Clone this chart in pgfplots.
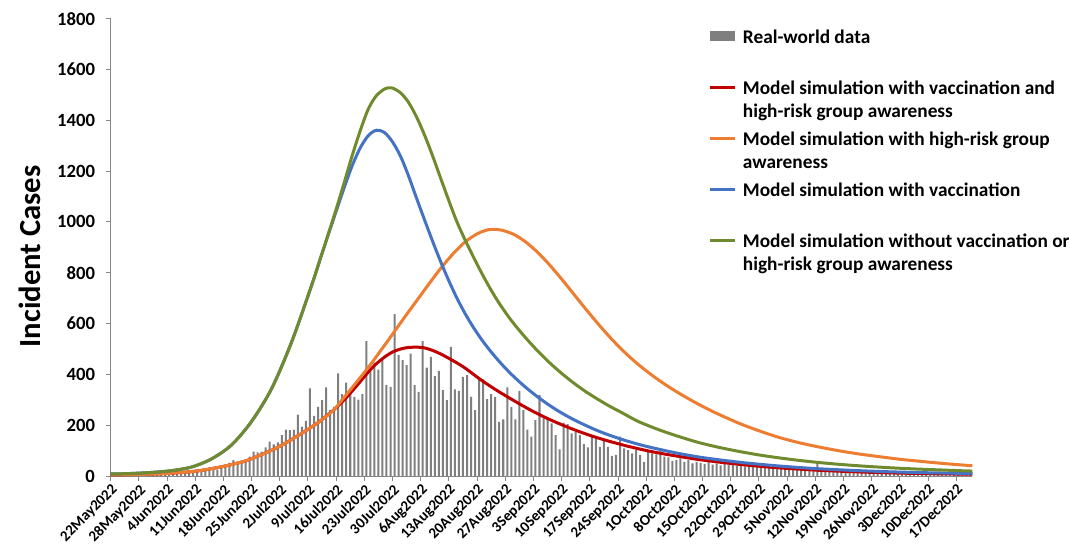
\documentclass[border=0pt]{standalone}
\usepackage{fontspec}
\setmainfont{Carlito}
\usepackage{pgfplots}
\usepackage{pgfplotstable}
\pgfplotsset{compat=1.18}
\definecolor{barGray}{HTML}{7F7F7F}
\definecolor{cRed}{HTML}{C00000}
\definecolor{cOrange}{HTML}{ED7D31}
\definecolor{cBlue}{HTML}{4472C4}
\definecolor{cGreen}{HTML}{6F8B2E}
\definecolor{axGray}{HTML}{868686}
\pgfplotsset{
  lineleg/.style={legend image code/.code={\draw[##1] (0pt,8.9pt) -- (18.75pt,8.9pt);}},
  barleg/.style={legend image code/.code={\fill[barGray] (0pt,5.1pt) rectangle (18.75pt,12.6pt);}},
}

\pgfplotstableread[row sep=\\]{v\\
1\\2\\1\\2\\3\\2\\3\\4\\3\\5\\6\\5\\7\\8\\9\\10\\12\\11\\
17\\13\\23\\23\\25\\25\\28\\31\\25\\35\\37\\
52\\63\\52\\56\\63\\76\\96\\93\\96\\113\\135\\125\\132\\161\\183\\181\\183\\
242\\194\\217\\345\\237\\272\\299\\349\\259\\272\\404\\322\\368\\335\\312\\301\\322\\531\\414\\446\\419\\456\\359\\351\\637\\
476\\456\\436\\482\\358\\331\\531\\427\\469\\393\\414\\338\\299\\508\\341\\335\\390\\397\\312\\259\\
386\\380\\303\\322\\312\\213\\223\\349\\272\\223\\335\\259\\183\\155\\220\\318\\227\\233\\207\\161\\
105\\209\\204\\168\\174\\161\\126\\113\\161\\152\\115\\139\\115\\79\\83\\155\\109\\102\\89\\102\\
83\\56\\96\\89\\85\\109\\76\\73\\60\\63\\69\\56\\63\\50\\56\\
52\\48\\55\\45\\50\\42\\47\\44\\60\\40\\45\\38\\53\\36\\40\\35\\45\\32\\36\\40\\
30\\33\\40\\28\\31\\27\\30\\26\\29\\50\\25\\27\\24\\30\\22\\25\\21\\23\\20\\22\\
19\\21\\18\\20\\17\\19\\16\\18\\15\\17\\14\\16\\13\\15\\12\\14\\12\\13\\11\\12\\
10\\11\\9\\10\\9\\8\\9\\8\\
}\realdata

\begin{document}
\begin{tikzpicture}
\path[use as bounding box] (-83pt,-51.75pt) rectangle (718.7pt,357pt);
\begin{axis}[
  scale only axis, width=646.2pt, height=343pt,
  at={(0,0)}, anchor=south west,
  xmin=0, xmax=214, ymin=0, ymax=1800,
  axis x line*=bottom, axis y line*=left,
  axis line style={-, draw=axGray, line width=0.75pt},
  xtick={0,7,...,210},
  xticklabels={22May2022,28May2022,4Jun2022,11Jun2022,18Jun2022,25Jun2022,2Jul2022,9Jul2022,16Jul2022,23Jul2022,30Jul2022,6Aug2022,13Aug2022,20Aug2022,27Aug2022,3Sep2022,10Sep2022,17Sep2022,24Sep2022,1Oct2022,8Oct2022,15Oct2022,22Oct2022,29Oct2022,5Nov2022,12Nov2022,19Nov2022,26Nov2022,3Dec2022,10Dec2022,17Dec2022},
  ytick={0,200,...,1800},
  tick align=outside,
  major tick length=3.75pt,
  tick style={draw=axGray, line width=0.75pt},
  x tick label style={rotate=45, anchor=north east, font=\bfseries\fontsize{11.3}{13}\selectfont, inner sep=1pt},
  y tick label style={font=\bfseries\fontsize{14}{16}\selectfont, xshift=-4.5pt},
  /pgf/number format/assume math mode=true,
  /pgf/number format/1000 sep={},
  ylabel={Incident Cases},
  ylabel style={at={(axis description cs:-0.0937,0.48)}, anchor=center, font=\bfseries\fontsize{23}{27}\selectfont},
  legend cell align=left,
  legend style={at={(0.6932,0.982)}, anchor=north west, draw=none, fill=none, inner sep=0pt,
    row sep=7pt, font=\bfseries\fontsize{14.5}{17.5}\selectfont,
    nodes={align=left, inner ysep=0pt, inner xsep=5pt}, cells={anchor=west}},
]
\addplot[ybar, bar width=0.5, bar shift=0pt, fill=barGray, draw=none, barleg]
  table[x expr=\coordindex+0.5, y=v] {\realdata};
\addlegendentry{\strut Real-world data\\\strut}

\addplot[cRed, line width=2.25pt, smooth, lineleg] coordinates {
(0,4) (5,5.5) (10,7.5) (14,10) (18,14.5) (21,19) (24,26) (28,38) (31,49) (34,62) (38,88) (41.5,113) (45.4,148) (51.2,207) (55.3,259) (58,300) (60,335) (62,372) (64.4,417) (66,442) (68,468) (70,488) (72,500) (74,506) (76.4,507) (78,504) (80,494) (82,480) (84,463) (86,445) (88,425) (92,378) (96,336) (100,298) (104,262) (108,230) (112,202) (116,177) (120,155) (124,136) (128,119) (132,104) (136,91) (140,80) (146,65) (151,55) (156,46) (161,38.5) (166,32) (171,27) (176,22.5) (181,19) (186,16) (191,13.5) (196,11.5) (201,10) (206,8.7) (211,7.6) (214,7)};
\addlegendentry{\strut Model simulation with vaccination and\\high-risk group awareness\strut}

\addplot[cOrange, line width=2.25pt, smooth, lineleg] coordinates {
(0,4) (5,5.5) (10,7.5) (14,10) (18,14.5) (21,19) (24,26) (28,38) (31,49) (34,62) (38,88) (41.5,113) (45.4,148) (51.2,207) (55.3,259) (58,310) (61,368) (64,428) (67,492) (70,558) (73,625) (76,690) (79,755) (82,818) (85,874) (88,921) (91,953) (93,966) (94.7,971) (97,968) (100,952) (103,922) (106,881) (109,831) (112,775) (115,716) (118,657) (121,600) (124,546) (127,497) (130,453) (133,414) (136,379) (139,347) (142,318) (145,291) (148,266) (151,243) (156,208) (161,178) (166,152) (171,131) (176,114) (181,99) (186,86.5) (191,76) (196,66) (201,58) (206,50.5) (211,44) (214,40.5)};
\addlegendentry{\strut Model simulation with high-risk group\\awareness\strut}

\addplot[cBlue, line width=2.25pt, smooth, lineleg] coordinates {
(0,8) (5,10) (10,14) (15,21) (20,35) (25,67) (30,122) (35,215) (40,345) (45,530) (50,755) (52,852) (54,948) (56,1042) (58,1135) (60,1222) (62,1292) (64,1340) (66,1361) (68,1352) (70,1315) (72,1258) (74,1180) (76,1092) (78,1006) (80,922) (82,842) (84,768) (86,700) (88,640) (90,587) (92,540) (94,498) (96,460) (98,425) (100,393) (103,350) (106,312) (109,278) (112,248) (115,222) (118,199) (121,178) (124,160) (128,139) (132,121) (136,106) (141,89) (146,75) (151,64) (156,54.5) (161,46.5) (166,39.5) (171,33.5) (176,28.5) (181,24.5) (186,21) (191,18) (196,15.5) (201,13.5) (206,12) (211,10.5) (214,10)};
\addlegendentry{\strut Model simulation with vaccination\\\strut}

\addplot[cGreen, line width=2.25pt, smooth, lineleg] coordinates {
(0,8) (5,10) (10,14) (15,21) (20,35) (25,67) (30,122) (35,215) (40,345) (45,530) (50,755) (52,852) (54,950) (56,1050) (58,1155) (60,1262) (62,1360) (64,1445) (66,1497) (68,1523) (69.2,1528) (70,1527) (72,1508) (74,1470) (76,1412) (78,1340) (80,1258) (82,1170) (84,1083) (86,1000) (88,930) (90,865) (92,803) (94,745) (96,692) (98,645) (100,602) (103,545) (106,493) (109,446) (112,404) (115,366) (118,332) (121,302) (124,274) (127,249) (131,215) (136,183) (141,156) (146,132) (151,113) (156,97) (161,83) (166,71.5) (171,61.5) (176,53) (181,46) (186,40) (191,35) (196,30.5) (201,27) (206,24) (211,21) (214,19.5)};
\addlegendentry{\strut Model simulation without vaccination or\\high-risk group awareness\strut}
\end{axis}
\end{tikzpicture}
\end{document}
